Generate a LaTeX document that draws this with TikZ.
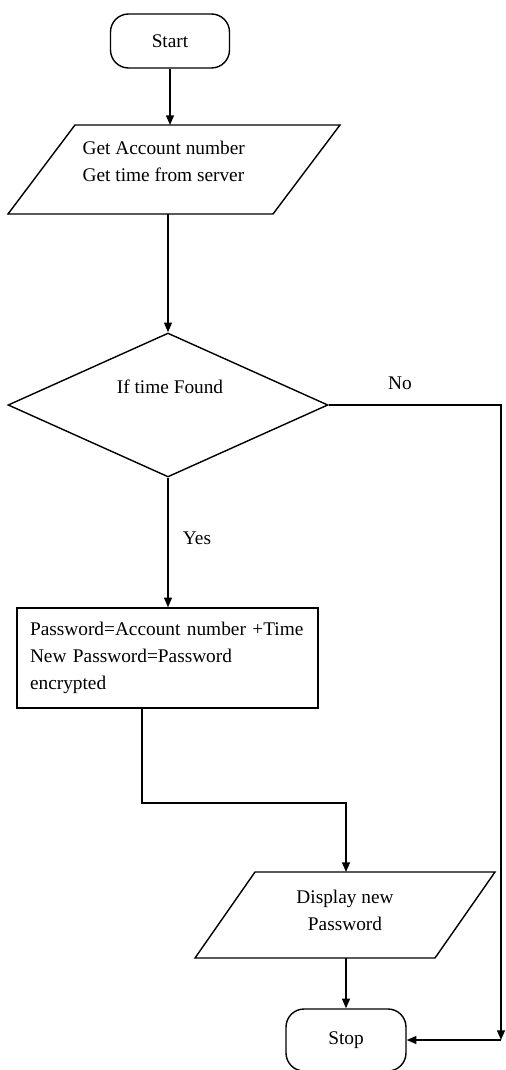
\documentclass[tikz,border=0pt]{standalone}
\usepackage{fontspec}
\setmainfont{Liberation Serif}
\usetikzlibrary{shapes.geometric,arrows.meta}

\begin{document}
\begin{tikzpicture}[x=0.02cm, y=-0.02cm, line width=0.8pt,
  every node/.style={font=\fontsize{11pt}{15.4pt}\selectfont},
  term/.style={draw, rounded corners=0.36cm, minimum width=2.38cm, minimum height=1.08cm},
  decision/.style={draw, diamond, minimum width=6.4cm, minimum height=2.88cm, inner sep=0pt},
  process/.style={draw, rectangle, minimum width=6.02cm, minimum height=2cm, inner xsep=0.26cm, text width=5.5cm, align=left},
  arr/.style={-{Triangle[length=5.5pt,width=4.5pt]}}]
  \useasboundingbox (0,0) rectangle (506,1070);

  \node[term] (start) at (170,41) {Start};
  % input parallelogram
  \draw (75,125) -- (340,125) -- (273,214) -- (8,214) -- cycle;
  \coordinate (getintop) at (170,125);
  \coordinate (getinbot) at (170,214);
  \node[anchor=west, align=left, inner sep=0pt] (getin) at (82,161) {Get Account number\\Get time from server};
  \node[decision] (found) at (168,405) {};
  \node (foundtxt) at (170,387) {If time Found};
  \node[process] (makepw) at (167.5,658) {Password=Account number +Time\\New Password=Password\\encrypted};
  % output parallelogram
  \draw (255,872) -- (495,872) -- (435,958) -- (195,958) -- cycle;
  \coordinate (showtop) at (346,872);
  \coordinate (showbot) at (346,958);
  \node[align=center] (show) at (345,910) {Display new\\Password};
  \node[term, minimum width=2.4cm, minimum height=1.24cm] (stop) at (346,1040) {Stop};
  \coordinate (nocorner) at (501,1040);
  \coordinate (bend) at (142,803);

  \draw[arr] (start) -- (getintop);
  \draw[arr] (found.north |- getinbot) -- (found);
  \draw[arr] (found.south) -- (found.south |- makepw.north);
  \node (yes) at (197,538) {Yes};
  \draw[arr] (found.east) -| (nocorner);
  \node (no) at (400,383) {No};
  \draw[arr] (nocorner) -- (stop.east);
  \draw[arr] (makepw.south -| bend) -- (bend) -| (showtop);
  \draw[arr] (showbot) -- (stop.north);
\end{tikzpicture}
\end{document}
